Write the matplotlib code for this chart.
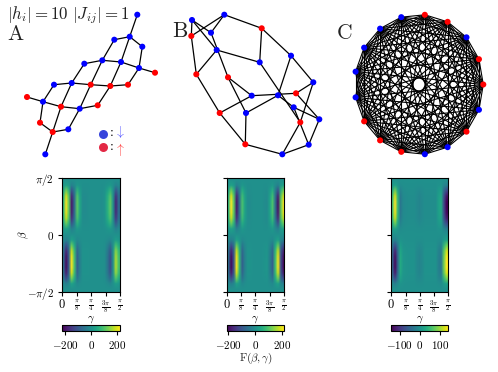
import numpy as np
import matplotlib
matplotlib.use('Agg')
import matplotlib.pyplot as plt
from matplotlib import cm

plt.rcParams['mathtext.fontset'] = 'cm'
plt.rcParams['font.family'] = 'serif'
plt.rcParams['font.serif'] = ['cmr10']
plt.rcParams['axes.unicode_minus'] = False

W, H = 498, 372
BLUE = '#0000ff'
RED = '#ff0000'

# graph A: node positions read in image pixels
a_x = [137.3, 129.7, 114.3, 142.3, 102.3, 121.0, 84.3, 139.0, 155.0, 71.7, 54.0, 90.7,
       110.3, 128.0, 27.0, 43.0, 61.0, 79.7, 97.7, 40.0, 68.3, 52.7, 45.3]
a_y = [14.7, 36.7, 39.7, 46.7, 60.3, 62.0, 63.7, 68.0, 72.7, 83.0, 84.7, 84.7,
       86.0, 84.7, 97.0, 101.7, 106.7, 108.7, 105.3, 122.7, 129.3, 132.0, 154.3]
a_spin = 'bbbbbbbbrbbrrrrbrbrrbrb'
a_edges = [(0, 1), (1, 2), (1, 3), (3, 7), (7, 8), (2, 4), (1, 5), (4, 5), (5, 7), (4, 6),
           (6, 9), (9, 10), (9, 11), (11, 12), (12, 13), (13, 7), (4, 11), (11, 17), (17, 20),
           (5, 12), (12, 18), (9, 16), (16, 21), (21, 22), (10, 15), (15, 19), (19, 21),
           (14, 15), (15, 16), (16, 17), (17, 18), (21, 20)]

# graph B
b_x = [192.0, 224.3, 261.7, 191.3, 211.0, 216.7, 259.7, 291.0, 196.3, 228.0, 313.3,
       251.7, 278.0, 296.0, 293.7, 319.3, 219.7, 246.0, 300.3, 245.3, 308.7, 282.3]
b_y = [20.0, 14.7, 28.3, 36.0, 32.7, 50.0, 62.3, 55.7, 74.3, 77.3, 82.3,
       95.7, 95.3, 93.3, 107.3, 119.3, 113.0, 113.0, 122.3, 144.3, 144.7, 154.3]
b_spin = 'bbrrbbbbrrbbbrbbrbrrbb'
b_edges = [(0, 3), (0, 4), (0, 5), (1, 3), (1, 4), (1, 2), (2, 7), (2, 6), (3, 8), (4, 9),
           (5, 6), (5, 8), (6, 18), (7, 10), (7, 12), (8, 16), (9, 11), (9, 17), (10, 13),
           (10, 18), (11, 13), (11, 16), (12, 17), (12, 14), (13, 15), (14, 15), (14, 20),
           (15, 20), (16, 19), (17, 19), (18, 21), (19, 21), (20, 21)]

# graph C: complete graph on a ring
c_spin = 'rrbrrbbbbbrrrbbrb'

gamma_ticks = [r'$0$', r'$\frac{\pi}{8}$', r'$\frac{\pi}{4}$', r'$\frac{3\pi}{8}$', r'$\frac{\pi}{2}$']

# rows of the landscapes, from beta = pi/2 down to 0
beta_shape = [0.0, 0.15, 0.6, 0.9, 1.0, 1.0, 0.97, 0.85, 0.55, 0.15, 0.0]

# values across gamma (21 columns), upper and lower half of each map
a_upper = [60, 215, 110, -190, -70, 110, 40, -8, -8, -5, 0, 0, 0, 0, -5, 10, 60, 110, 0, -175, -70]
a_lower = [-60, -205, -90, 215, 90, -90, -30, 5, 5, 5, 0, 0, 0, 0, 0, -5, -50, -115, 0, 165, 90]
b_upper = [60, 210, 100, -185, -60, 90, 30, -5, -5, 0, 0, 0, 0, -5, -10, 30, 90, -60, -195, 110, 205]
b_lower = [-60, -205, -100, 205, 70, -85, -25, 5, 5, 0, 0, 0, 0, 5, 10, -30, -85, 80, 205, -110, -200]
c_upper = [55, 140, 45, -30, -8, -5, -3, -3, -3, -8, -14, -8, -3, -3, -3, -3, -3, 18, 30, -80, -140]
c_lower = [-55, -135, -45, 30, 8, 5, 3, 3, 3, -8, -14, -8, 3, 3, 3, 3, 3, -18, -30, 80, 140]

panels = [
    {'upper': a_upper, 'lower': a_lower, 'lim': 221, 'ticks': [-200, 0, 200],
     'box': (62.3, 120.0)},
    {'upper': b_upper, 'lower': b_lower, 'lim': 213, 'ticks': [-200, 0, 200],
     'box': (226.7, 284.0)},
    {'upper': c_upper, 'lower': c_lower, 'lim': 142, 'ticks': [-100, 0, 100],
     'box': (391.3, 448.3)},
]


def spin_colors(spins):
    return [BLUE if s == 'b' else RED for s in spins]


def draw_graph(ax, xs, ys, spins, edges, lw=0.9):
    for i, j in edges:
        ax.plot([xs[i], xs[j]], [ys[i], ys[j]], color='black', lw=lw, zorder=1, solid_capstyle='round')
    ax.scatter(xs, ys, c=spin_colors(spins), s=19, linewidths=0, zorder=2)


fig = plt.figure(figsize=(W / 100, H / 100), dpi=100)

# overlay in image pixels for the three graphs and the labels
net = fig.add_axes([0, 0, 1, 1])
net.set_xlim(0, W)
net.set_ylim(H, 0)
net.axis('off')

draw_graph(net, a_x, a_y, a_spin, a_edges)
draw_graph(net, b_x, b_y, b_spin, b_edges)

theta = 2 * np.pi * np.arange(len(c_spin)) / len(c_spin)
c_x = 418.9 + 64.4 * np.cos(theta)
c_y = 84.5 - 70.0 * np.sin(theta)
c_edges = [(i, j) for i in range(len(c_spin)) for j in range(i + 1, len(c_spin))]
draw_graph(net, c_x, c_y, c_spin, c_edges, lw=0.8)

net.text(7, 15, r'$|h_i|=10\ |J_{ij}|=1$', fontsize=12.2, va='center', ha='left', color='#222222')
net.text(7, 34, r'$\mathrm{A}$', fontsize=15.5, va='center', ha='left', color='#222222')
net.text(172, 31, r'$\mathrm{B}$', fontsize=15.5, va='center', ha='left', color='#222222')
net.text(335.5, 33, r'$\mathrm{C}$', fontsize=15.5, va='center', ha='left', color='#222222')

# spin legend
net.scatter([102.5], [133.5], c='#2030d8', s=42, linewidths=0, alpha=0.9)
net.scatter([103], [147], c='#e01030', s=42, linewidths=0, alpha=0.9)
net.text(110.5, 133, r'$\mathbf{:}$', fontsize=10, ha='center', va='center')
net.text(110.5, 147, r'$\mathbf{:}$', fontsize=10, ha='center', va='center')
net.text(119.5, 132.5, r'$\downarrow$', fontsize=10, color=BLUE, alpha=0.65, ha='center', va='center')
net.text(119.5, 149, r'$\uparrow$', fontsize=10, color=RED, alpha=0.75, ha='center', va='center')

net.text(255.5, 358, r'$\mathrm{F}(\beta,\gamma)$', fontsize=8, ha='center', va='center', color='#222222')

for n, p in enumerate(panels):
    left, right = p['box']
    ax = fig.add_axes([left / W, 1 - 292 / H, (right - left) / W, (292 - 177.7) / H])
    # upper half runs top to middle, lower half is its mirror in beta
    shape = np.array(beta_shape)
    grid = np.vstack([np.outer(shape, p['upper']), np.outer(shape[::-1][1:], p['lower'])])
    im = ax.imshow(grid, cmap='viridis', vmin=-p['lim'], vmax=p['lim'], aspect='auto',
                   interpolation='bilinear', extent=(0, np.pi / 2, -np.pi / 2, np.pi / 2))
    ax.set_xticks(np.pi / 8 * np.arange(5))
    ax.set_xticklabels(gamma_ticks, fontsize=7)
    ax.get_xticklabels()[0].set_fontsize(9)
    ax.set_yticks([-np.pi / 2, 0, np.pi / 2])
    if n == 0:
        ax.set_yticklabels([r'$-\pi/2$', r'$0$', r'$\pi/2$'], fontsize=8)
        ax.set_ylabel(r'$\beta$', fontsize=8, labelpad=-3)
    else:
        ax.set_yticklabels([])
    ax.tick_params(length=3, width=0.8, pad=3)
    ax.tick_params(axis='x', pad=1.5)
    ax.set_xlabel(r'$\gamma$', fontsize=8, va='center')
    ax.xaxis.set_label_coords(0.5, -28 / 114.3)

    cax = fig.add_axes([left / W, 1 - 331 / H, (right - left) / W, 6 / H])
    cb = fig.colorbar(cm.ScalarMappable(norm=im.norm, cmap='viridis'), cax=cax, orientation='horizontal')
    cb.set_ticks(p['ticks'])
    cb.set_ticklabels(['$%d$' % t for t in p['ticks']], fontsize=8)
    cax.tick_params(length=3, width=0.8, pad=3)

plt.savefig('out.png', dpi=100)
plt.close(fig)
